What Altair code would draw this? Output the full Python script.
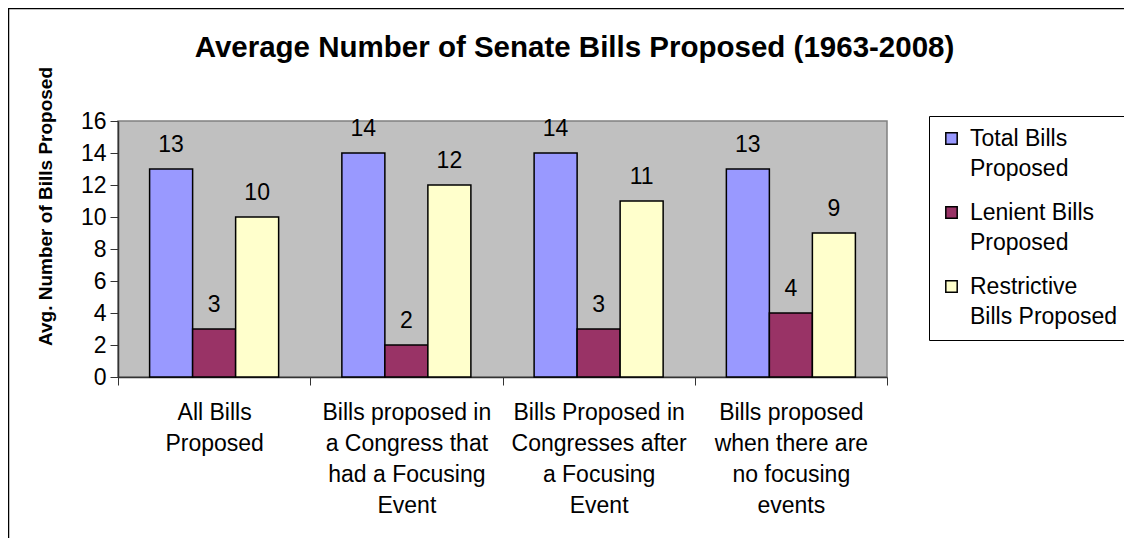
import altair as alt
import pandas as pd

categories = [
    "All Bills\nProposed",
    "Bills proposed in\na Congress that\nhad a Focusing\nEvent",
    "Bills Proposed in\nCongresses after\na Focusing\nEvent",
    "Bills proposed\nwhen there are\nno focusing\nevents",
]
series = ["Total Bills\nProposed", "Lenient Bills\nProposed", "Restrictive\nBills Proposed"]
total_bills = [13, 14, 14, 13]
lenient_bills = [3, 2, 3, 4]
restrictive_bills = [10, 12, 11, 9]
colors = ["#9999FF", "#993366", "#FFFFCC"]
y_ticks = [0, 2, 4, 6, 8, 10, 12, 14, 16]

rows = []
for i, c in enumerate(categories):
    for s, vals in zip(series, [total_bills, lenient_bills, restrictive_bills]):
        rows.append({"category": c, "series": s, "value": vals[i]})
df = pd.DataFrame(rows)

FONT = "Liberation Sans"

x_enc = alt.X(
    "category:N",
    sort=categories,
    title=None,
    scale=alt.Scale(paddingInner=0, paddingOuter=0),
    axis=alt.Axis(
        labelAngle=0,
        labelExpr="split(datum.label, '\\n')",
        labelFontSize=23,
        labelLineHeight=31,
        labelColor="black",
        labelPadding=16,
        labelBaseline="top",
        labelLimit=0,
        tickBand="extent",
        tickSize=8,
        tickColor="#333333",
        domainColor="#333333",
        domainWidth=1.5,
    ),
)
xoff_enc = alt.XOffset(
    "series:N", sort=series, scale=alt.Scale(paddingInner=0, paddingOuter=0.735)
)
y_enc = alt.Y(
    "value:Q",
    scale=alt.Scale(domain=[0, 16], nice=False),
    axis=alt.Axis(
        values=y_ticks,
        grid=False,
        title="Avg. Number of Bills Proposed",
        titleFontSize=19,
        titleFontWeight="bold",
        titleColor="black",
        titleAngle=270,
        titleX=-73,
        titleY=85,
        titleAlign="center",
        titleBaseline="middle",
        labelFontSize=23,
        labelColor="black",
        labelPadding=4,
        labelOverlap=False,
        labelLineHeight=23,
        tickSize=8,
        tickColor="#333333",
        domainColor="#333333",
        domainWidth=1.5,
    ),
)

base = alt.Chart(df)

bars = base.mark_bar(stroke="black", strokeWidth=1.5).encode(
    x=x_enc,
    xOffset=xoff_enc,
    y=y_enc,
    color=alt.Color(
        "series:N",
        sort=series,
        scale=alt.Scale(domain=series, range=colors),
        legend=alt.Legend(
            title=None,
            orient="none",
            legendX=811,
            legendY=-5,
            labelExpr="split(datum.label, '\\n')",
            labelFontSize=23,
            labelColor="black",
            labelLimit=0,
            labelOffset=7,
            symbolType="square",
            symbolSize=130,
            symbolStrokeColor="black",
            symbolStrokeWidth=1.5,
            symbolOpacity=1,
            fillColor="white",
            strokeColor="black",
            padding=11,
            rowPadding=20,
        ),
    ),
)

labels = base.mark_text(
    fontSize=23, color="black", baseline="alphabetic", dy=-17, font=FONT
).encode(
    x=x_enc,
    xOffset=xoff_enc,
    y=y_enc,
    text=alt.Text("value:Q"),
)

frame = alt.Chart(pd.DataFrame({"a": [0]})).mark_rect(
    fill="transparent", stroke="black", strokeWidth=1.5
).encode(
    x=alt.value(-109.5),
    x2=alt.value(1100),
    y=alt.value(-112.5),
    y2=alt.value(500),
)

chart = (
    alt.layer(bars, labels, frame)
    .properties(
        width=769,
        height=256,
        autosize=alt.AutoSizeParams(type="none"),
        padding={"left": 110, "top": 113, "right": 237, "bottom": 161},
        title=alt.Title(
            "Average Number of Senate Bills Proposed (1963-2008)",
            fontSize=29.5,
            fontWeight="bold",
            color="black",
            anchor="middle",
            frame="group",
            baseline="middle",
            dx=72,
            dy=70,
            offset=0,
            font=FONT,
        ),
    )
    .configure(font=FONT, style={"guide-label": {"lineHeight": 30}})
    .configure_axisY(labelOverlap=False)
    .configure_view(fill="#C0C0C0", stroke="#808080", strokeWidth=1.5)
)

chart.save("out.html", embed_options={"renderer": "svg", "actions": False})
